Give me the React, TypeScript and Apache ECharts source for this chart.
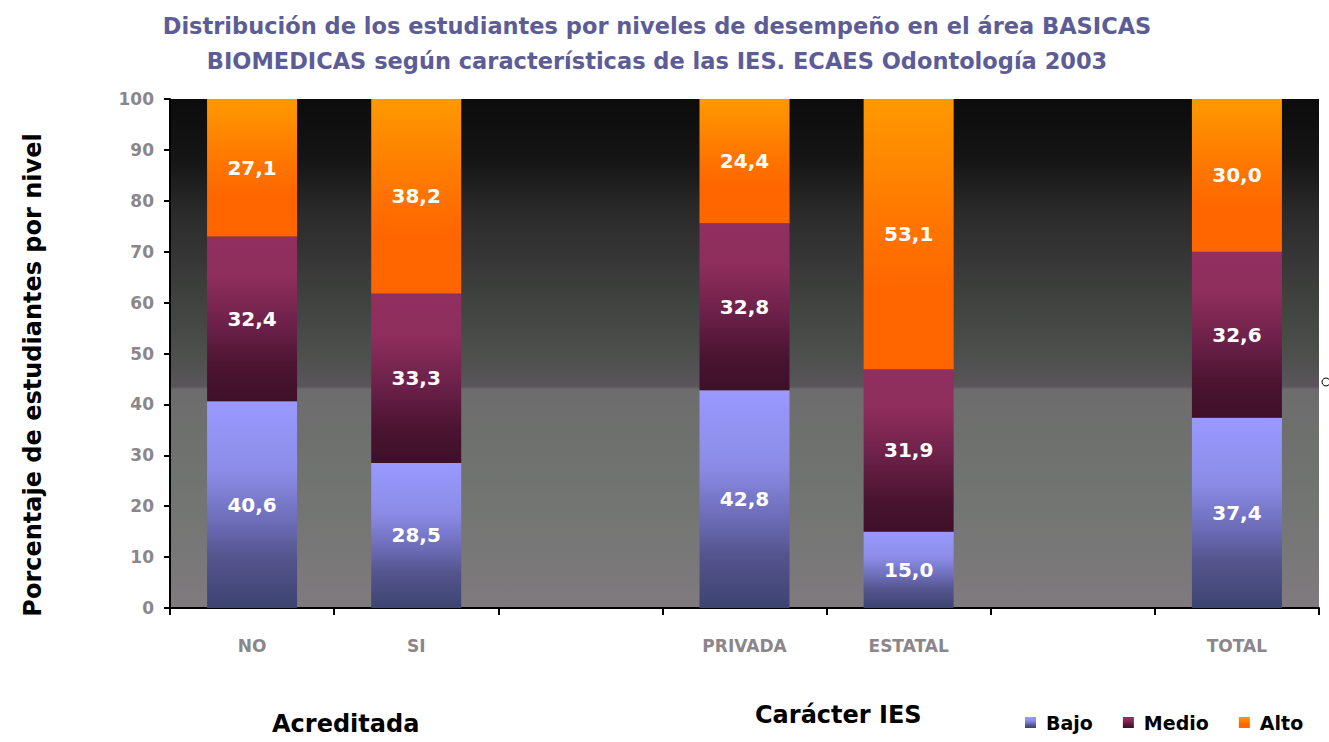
import React, { useEffect, useRef } from "react";
import * as echarts from "echarts";

const categories = ["NO", "SI", "", "PRIVADA", "ESTATAL", "", "TOTAL"];
const bajo = [40.6, 28.5, null, 42.8, 15.0, null, 37.4];
const medio = [32.4, 33.3, null, 32.8, 31.9, null, 32.6];
const alto = [27.1, 38.2, null, 24.4, 53.1, null, 30.0];
const yTicks = [0, 100, 10];

const grad = (stops: [number, string][]) =>
  new echarts.graphic.LinearGradient(0, 0, 0, 1, stops.map(([offset, color]) => ({ offset, color })));

export default function App() {
  const ref = useRef<HTMLDivElement>(null);
  useEffect(() => {
    const chart = echarts.init(ref.current!, null, { renderer: "svg" });
    const fmt = (p: any) => (p.value == null ? "" : Number(p.value).toFixed(1).replace(".", ","));
    const label = {
      show: true,
      position: "inside",
      color: "#ffffff",
      fontFamily: "DejaVu Sans",
      fontWeight: "bold",
      fontSize: 20,
      formatter: fmt,
    };
    const mk = (name: string, data: any[], color: any) => ({
      name,
      type: "bar",
      stack: "total",
      data,
      barWidth: 90,
      itemStyle: { color },
      label,
    });
    const cBajo = grad([
      [0, "#9999ff"],
      [0.35, "#8b8be6"],
      [0.6, "#6a6ab4"],
      [0.75, "#55558e"],
      [1, "#3c4470"],
    ]);
    const cMedio = grad([
      [0, "#913060"],
      [0.25, "#8e2e5c"],
      [0.55, "#6a2048"],
      [0.8, "#4a1430"],
      [1, "#3e1028"],
    ]);
    const cAlto = grad([
      [0, "#ff9900"],
      [0.4, "#ff7a00"],
      [0.7, "#ff6600"],
      [1, "#ff6600"],
    ]);
    const bg = grad([
      [0, "#0c0c0c"],
      [0.12, "#151515"],
      [0.22, "#2a2a2a"],
      [0.32, "#373737"],
      [0.42, "#424642"],
      [0.5, "#4c4f4c"],
      [0.565, "#5a555a"],
      [0.57, "#6c6c6c"],
      [0.75, "#707470"],
      [1, "#7f7a7e"],
    ]);
    chart.setOption({
      animation: false,
      backgroundColor: "#ffffff",
      title: {
        text: "Distribución de los estudiantes por niveles de desempeño en el área BASICAS\nBIOMEDICAS según características de las IES. ECAES Odontología 2003",
        left: 652,
        textAlign: "center",
        top: 3,
        textStyle: {
          color: "#5c5c96",
          fontFamily: "DejaVu Sans",
          fontWeight: "bold",
          fontSize: 22.5,
          lineHeight: 35,
        },
      },
      legend: {
        left: 1020,
        top: 708,
        itemWidth: 11,
        itemHeight: 11,
        itemGap: 30,
        icon: "rect",
        data: ["Bajo", "Medio", "Alto"],
        textStyle: {
          color: "#000",
          fontFamily: "DejaVu Sans",
          fontWeight: "bold",
          fontSize: 19,
          padding: [0, 0, 0, 5],
        },
      },
      grid: {
        left: 170,
        right: 10,
        top: 99,
        bottom: 134,
        show: true,
        borderWidth: 0,
        backgroundColor: bg,
      },
      xAxis: {
        type: "category",
        data: categories,
        axisLine: { show: true, lineStyle: { color: "#000", width: 2 } },
        axisTick: { show: true, alignWithLabel: false, length: 7, lineStyle: { color: "#000", width: 2 } },
        axisLabel: {
          color: "#8a868a",
          fontFamily: "DejaVu Sans",
          fontWeight: "bold",
          fontSize: 17,
          margin: 29,
        },
      },
      yAxis: {
        type: "value",
        min: yTicks[0],
        max: yTicks[1],
        interval: yTicks[2],
        splitLine: { show: false },
        axisLine: { show: true, lineStyle: { color: "#000", width: 2 } },
        axisTick: { show: true, length: 6, lineStyle: { color: "#000", width: 2 } },
        axisLabel: {
          color: "#8a868a",
          fontFamily: "DejaVu Sans",
          fontWeight: "bold",
          fontSize: 17,
          margin: 16,
        },
      },
      graphic: [
        {
          type: "text",
          x: 33,
          y: 375,
          rotation: Math.PI / 2,
          style: {
            text: "Porcentaje de estudiantes por nivel",
            fill: "#000",
            font: "bold 24px 'DejaVu Sans'",
            textAlign: "center",
            textVerticalAlign: "middle",
          },
        },
        {
          type: "text",
          left: 272,
          top: 712,
          style: { text: "Acreditada", fill: "#000", font: "bold 24px 'DejaVu Sans'" },
        },
        {
          type: "text",
          left: 755,
          top: 703,
          style: { text: "Carácter IES", fill: "#000", font: "bold 24px 'DejaVu Sans'" },
        },
        {
          type: "circle",
          shape: { cx: 1326, cy: 382, r: 4 },
          style: { fill: "none", stroke: "#000", lineWidth: 1 },
        },
      ],
      series: [mk("Bajo", bajo, cBajo), mk("Medio", medio, cMedio), mk("Alto", alto, cAlto)],
    });
    return () => chart.dispose();
  }, []);
  return <div ref={ref} style={{ position: "fixed", left: 0, top: 0, width: 1329, height: 742 }} />;
}
